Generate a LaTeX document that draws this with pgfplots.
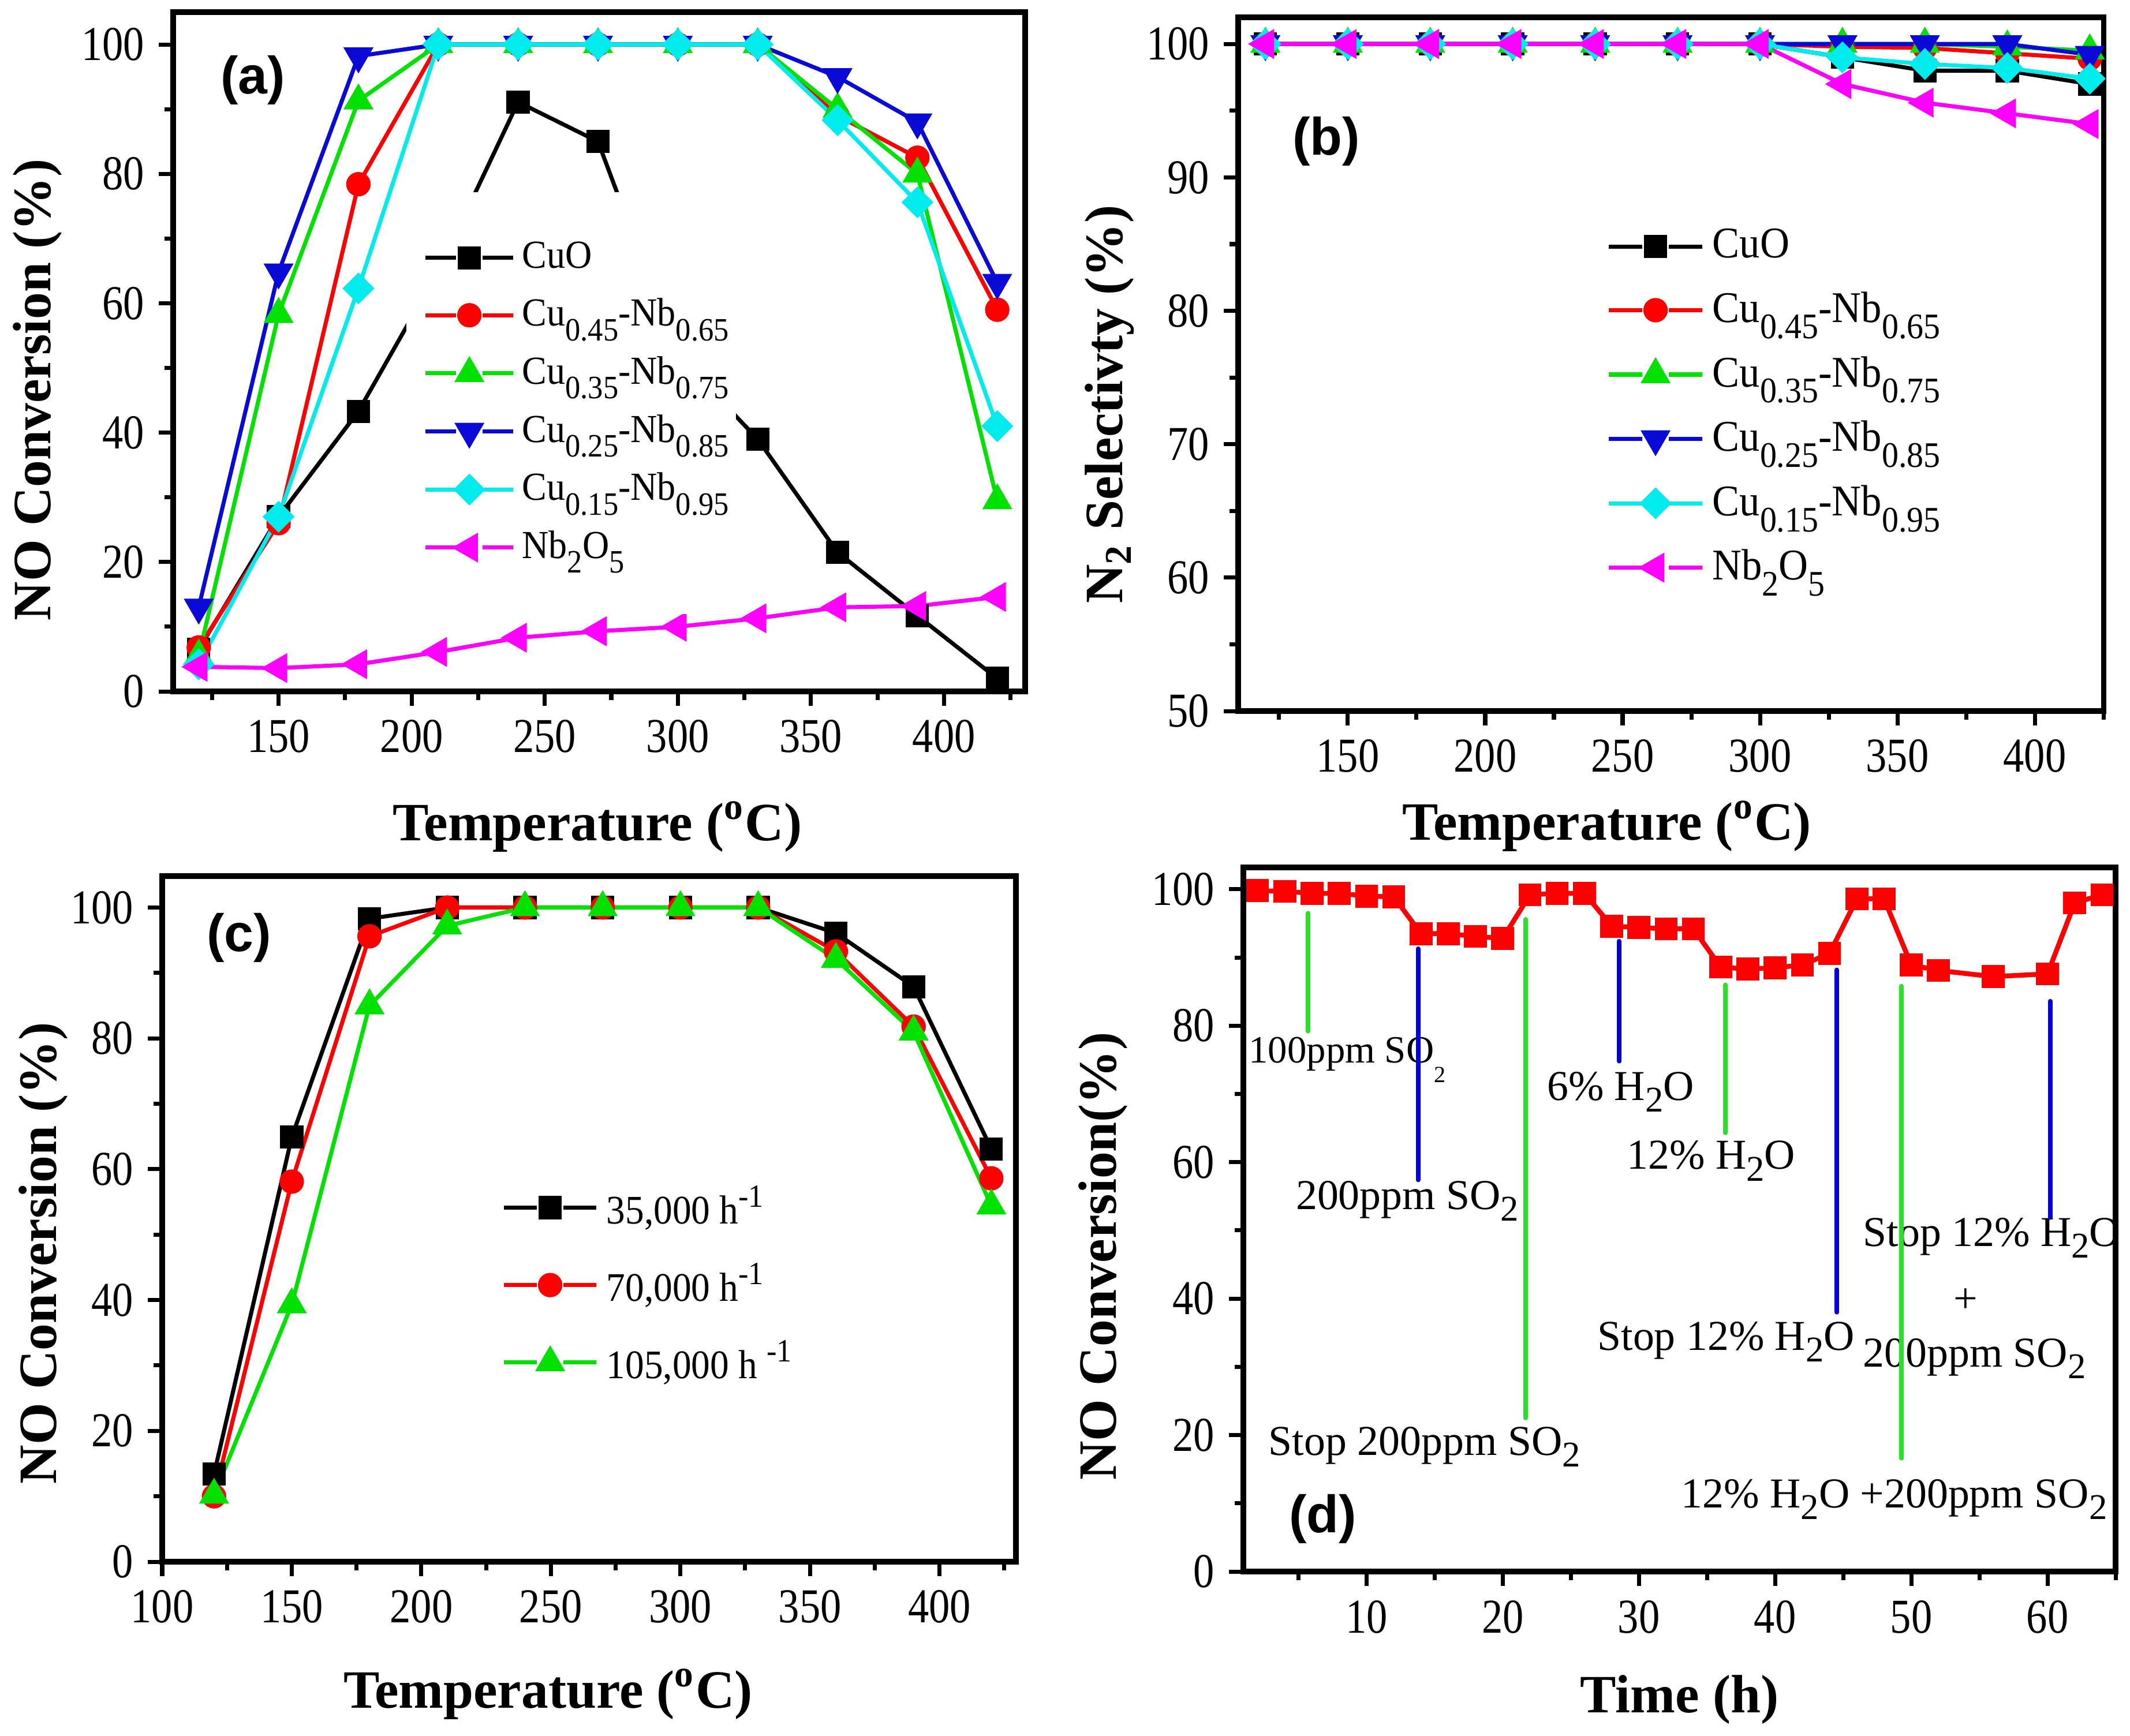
\documentclass[border=0pt]{standalone}
\usepackage{fontspec}
\setmainfont{Liberation Serif}
\newfontfamily\tickfont{Liberation Serif}[FakeStretch=0.86]
\newfontfamily\legfont{Liberation Serif}[FakeStretch=0.93]
\newfontfamily\panelfont{Liberation Sans}
\usepackage{graphicx}
\usepackage{pgfplots}
\pgfplotsset{compat=1.18}

\definecolor{cred}{RGB}{255,0,0}
\definecolor{cgreen}{RGB}{0,225,0}
\definecolor{cblue}{RGB}{10,10,215}
\definecolor{ccyan}{RGB}{0,235,235}
\definecolor{cmag}{RGB}{255,0,255}
\definecolor{agreen}{RGB}{40,225,40}
\definecolor{ablue}{RGB}{0,0,225}

\newcommand{\lsub}[1]{\raisebox{-0.8ex}{\scalebox{0.82}{#1}}}
\newcommand{\lsup}[1]{\raisebox{0.9ex}{\scalebox{0.8}{#1}}}
\newcommand{\asub}[1]{\raisebox{-0.6ex}{\scalebox{0.85}{#1}}}

\pgfplotsset{
  panel/.style={
    scale only axis, anchor=south west, clip=false,
    axis line style={line width=1.3pt},
    tick style={black, line width=1pt},
    major tick length=1.25mm, minor tick length=0.75mm,
    tick align=outside, xtick pos=left, ytick pos=left,
    tick label style={font=\tickfont\fontsize{12}{14}\selectfont},
    label style={font=\bfseries\fontsize{13.3}{15}\selectfont},
    /pgf/number format/assume math mode=true,
    every axis plot/.append style={line width=1pt},
    legend cell align=left,
  },
  gaplegend/.style 2 args={legend image code/.code={%
    \path (-#2,0mm);
    \draw (0mm,0mm) -- (#1-1.15mm,0mm) (#1+1.15mm,0mm) -- (2*#1,0mm);
    \draw plot coordinates {(#1,0mm)};}},
  sA/.style={black, mark=square*, mark size=0.83mm},
  sB/.style={cred, mark=*, mark size=0.88mm},
  sC/.style={cgreen, mark=triangle*, mark size=1.15mm},
  sD/.style={cblue, mark=triangle*, mark size=1.15mm, mark options={rotate=180}},
  sE/.style={ccyan, mark=square*, mark size=0.8mm, mark options={rotate=45}},
  sF/.style={cmag, mark=triangle*, mark size=1.15mm, mark options={rotate=90}},
}

\begin{document}
\begin{tikzpicture}
\path[use as bounding box] (0,0) rectangle (184.5mm,-150.35mm);

% ---------------- (a) ----------------
\begin{axis}[panel, at={(15mm,-59.9mm)}, width=73.8mm, height=58.85mm,
  xmin=110.4, xmax=430.5, ymin=0, ymax=105,
  xtick={150,200,...,400}, minor xtick={125,175,...,425},
  ytick={0,20,...,100}, minor ytick={10,30,...,90},
  xlabel={Temperature (\textsuperscript{o}C)},
  ylabel={NO Conversion (\%)},
  xlabel style={at={(axis description cs:0.498,-0.199)}, anchor=center},
  ylabel style={at={(axis description cs:-0.159,0.444)}, anchor=center},
  legend style={at={(axis description cs:0.2725,0.736)}, anchor=north west,
    draw=none, fill=white, inner xsep=0mm, inner ysep=3.5mm, row sep=0.57mm,
    font=\legfont\fontsize{9.8}{11}\selectfont, nodes={inner ysep=0.22em, inner xsep=0.6mm}},
  gaplegend={3.8mm}{1.5mm}]
\addplot[sA] coordinates {(120,6.5)(150,27)(180,43.3)(210,65)(240,91.1)(270,85)(300,52)(330,39)(360,21.5)(390,11.7)(420,2)};
\addlegendentry{CuO}
\addplot[sB] coordinates {(120,6.8)(150,26)(180,78.4)(210,100)(240,100)(270,100)(300,100)(330,100)(360,89)(390,82.5)(420,59)};
\addlegendentry{Cu\lsub{0.45}-Nb\lsub{0.65}}
\addplot[sC] coordinates {(120,5.5)(150,58.3)(180,91.3)(210,100)(240,100)(270,100)(300,100)(330,100)(360,90)(390,80)(420,29.5)};
\addlegendentry{Cu\lsub{0.35}-Nb\lsub{0.75}}
\addplot[sD] coordinates {(120,13)(150,64.8)(180,98.2)(210,100)(240,100)(270,100)(300,100)(330,100)(360,95)(390,88)(420,63.2)};
\addlegendentry{Cu\lsub{0.25}-Nb\lsub{0.85}}
\addplot[sE] coordinates {(120,4.2)(150,27)(180,62.3)(210,100)(240,100)(270,100)(300,100)(330,100)(360,88.3)(390,75.6)(420,41)};
\addlegendentry{Cu\lsub{0.15}-Nb\lsub{0.95}}
\addplot[sF] coordinates {(120,3.8)(150,3.6)(180,4.2)(210,6.1)(240,8.3)(270,9.3)(300,10)(330,11.3)(360,13)(390,13.2)(420,14.6)};
\addlegendentry{Nb\lsub{2}O\lsub{5}}
\node[font=\panelfont\bfseries\fontsize{13}{15}\selectfont] at (axis cs:140.3,94.5) {(a)};
\end{axis}

% ---------------- (b) ----------------
\begin{axis}[panel, at={(107.25mm,-61.6mm)}, width=74.95mm, height=60.1mm,
  xmin=110.1, xmax=425, ymin=50, ymax=102,
  xtick={150,200,...,400}, minor xtick={125,175,...,425},
  ytick={50,60,...,100}, minor ytick={55,65,...,95},
  xlabel={Temperature (\textsuperscript{o}C)},
  ylabel={N\textsubscript{2} Selectivty (\%)},
  xlabel style={at={(axis description cs:0.426,-0.166)}, anchor=center},
  ylabel style={at={(axis description cs:-0.149,0.442)}, anchor=center},
  legend style={at={(axis description cs:0.425,0.709)}, anchor=north west,
    draw=none, fill=none, inner sep=0pt, row sep=0.87mm,
    font=\legfont\fontsize{10.8}{12}\selectfont, nodes={inner ysep=0.22em}},
  gaplegend={4.05mm}{0mm}]
\addplot[sA] coordinates {(120,100)(150,100)(180,100)(210,100)(240,100)(270,100)(300,100)(330,99)(360,98)(390,98)(420,97)};
\addlegendentry{CuO}
\addplot[sB] coordinates {(120,100)(150,100)(180,100)(210,100)(240,100)(270,100)(300,100)(330,99.8)(360,99.7)(390,99.3)(420,98.9)};
\addlegendentry{Cu\lsub{0.45}-Nb\lsub{0.65}}
\addplot[sC] coordinates {(120,100)(150,100)(180,100)(210,100)(240,100)(270,100)(300,100)(330,100)(360,100)(390,99.8)(420,99.5)};
\addlegendentry{Cu\lsub{0.35}-Nb\lsub{0.75}}
\addplot[sD] coordinates {(120,100)(150,100)(180,100)(210,100)(240,100)(270,100)(300,100)(330,100)(360,100)(390,100)(420,99.2)};
\addlegendentry{Cu\lsub{0.25}-Nb\lsub{0.85}}
\addplot[sE] coordinates {(120,100)(150,100)(180,100)(210,100)(240,100)(270,100)(300,100)(330,99)(360,98.5)(390,98.2)(420,97.4)};
\addlegendentry{Cu\lsub{0.15}-Nb\lsub{0.95}}
\addplot[sF] coordinates {(120,100)(150,100)(180,100)(210,100)(240,100)(270,100)(300,100)(330,97)(360,95.6)(390,94.8)(420,94)};
\addlegendentry{Nb\lsub{2}O\lsub{5}}
\node[font=\panelfont\bfseries\fontsize{13}{15}\selectfont] at (axis cs:142.2,92.7) {(b)};
\end{axis}

% ---------------- (c) ----------------
\begin{axis}[panel, at={(14.05mm,-135.3mm)}, width=73.95mm, height=59.4mm,
  xmin=100, xmax=429.5, ymin=0, ymax=104.8,
  xtick={100,150,...,400}, minor xtick={125,175,...,425},
  ytick={0,20,...,100}, minor ytick={10,30,...,90},
  xlabel={Temperature (\textsuperscript{o}C)},
  ylabel={NO Conversion (\%)},
  xlabel style={at={(axis description cs:0.452,-0.193)}, anchor=center},
  ylabel style={at={(axis description cs:-0.139,0.45)}, anchor=center},
  legend style={at={(axis description cs:0.397,0.563)}, anchor=north west,
    draw=none, fill=none, inner sep=0pt, row sep=1.33mm,
    font=\legfont\fontsize{10}{12}\selectfont, nodes={inner ysep=0.22em}},
  gaplegend={4.0mm}{0mm}]
\addplot[sA] coordinates {(120,13.4)(150,64.9)(180,98.3)(210,100)(240,100)(270,100)(300,100)(330,100)(360,96.1)(390,87.9)(420,63.1)};
\addlegendentry{35,000 h\lsup{-1}}
\addplot[sB] coordinates {(120,10)(150,58.1)(180,95.6)(210,100)(240,100)(270,100)(300,100)(330,100)(360,93.3)(390,81.8)(420,58.6)};
\addlegendentry{70,000 h\lsup{-1}}
\addplot[sC] coordinates {(120,10.2)(150,39.3)(180,85)(210,97.2)(240,100)(270,100)(300,100)(330,100)(360,92.1)(390,81)(420,54.4)};
\addlegendentry{105,000 h \lsup{-1}}
\node[font=\panelfont\bfseries\fontsize{13}{15}\selectfont] at (axis cs:129.6,95.4) {(c)};
\end{axis}

% ---------------- (d) ----------------
\begin{axis}[panel, at={(107.7mm,-136.15mm)}, width=75.55mm, height=61.0mm,
  xmin=0.96, xmax=65, ymin=0, ymax=103.2,
  xtick={10,20,...,60}, minor xtick={5,15,...,65},
  ytick={0,20,...,100}, minor ytick={10,30,...,90},
  xlabel={Time (h)},
  ylabel={NO Conversion(\%)},
  xlabel style={at={(axis description cs:0.5,-0.182)}, anchor=center},
  ylabel style={at={(axis description cs:-0.161,0.448)}, anchor=center}]
\begin{scope}[every node/.style={font=\fontsize{10.5}{12}\selectfont, inner sep=0pt}]
\node[anchor=west, font=\fontsize{9.5}{11}\selectfont] at (axis cs:1.3,75) {100ppm SO\raisebox{-1.1ex}{\scalebox{0.6}{2}}};
\node[anchor=west] at (axis cs:4.76,54.3) {200ppm SO\asub{2}};
\node[anchor=west] at (axis cs:2.76,18.3) {Stop 200ppm SO\asub{2}};
\node[anchor=west] at (axis cs:23.2,70.3) {6\% H\asub{2}O};
\node[anchor=west] at (axis cs:29.06,60.2) {12\% H\asub{2}O};
\node[anchor=west] at (axis cs:26.9,33.7) {Stop 12\% H\asub{2}O};
\node[anchor=west] at (axis cs:46.4,48.9) {Stop 12\% H\asub{2}O};
\node at (axis cs:54.0,39.7) {+};
\node[anchor=west] at (axis cs:46.4,31.2) {200ppm SO\asub{2}};
\node[anchor=west] at (axis cs:33.05,10.6) {12\% H\asub{2}O +200ppm SO\asub{2}};
\end{scope}
\addplot[agreen, line width=1.1pt, line cap=round, mark=none] coordinates {(5.71,96.5)(5.71,79.2)};
\addplot[ablue, line width=1.1pt, line cap=round, mark=none] coordinates {(13.79,91.3)(13.79,57.4)};
\addplot[agreen, line width=1.1pt, line cap=round, mark=none] coordinates {(21.68,95.6)(21.68,22.5)};
\addplot[ablue, line width=1.1pt, line cap=round, mark=none] coordinates {(28.56,92.4)(28.56,74.8)};
\addplot[agreen, line width=1.1pt, line cap=round, mark=none] coordinates {(36.35,86.0)(36.35,64.3)};
\addplot[ablue, line width=1.1pt, line cap=round, mark=none] coordinates {(44.53,88.2)(44.53,38.0)};
\addplot[agreen, line width=1.1pt, line cap=round, mark=none] coordinates {(49.27,85.8)(49.27,16.6)};
\addplot[ablue, line width=1.1pt, line cap=round, mark=none] coordinates {(60.20,83.6)(60.20,51.9)};
\addplot[cred, line width=1.2pt, mark=square*, mark size=0.78mm] coordinates {
(2,99.8)(4,99.7)(6,99.4)(8,99.4)(10,99.0)(12,98.9)(14,93.5)(16,93.5)(18,93.1)(20,92.8)
(22,99.2)(24,99.4)(26,99.4)(28,94.6)(30,94.4)(32,94.2)(34,94.2)(36,88.6)(38,88.3)(40,88.5)
(42,88.9)(44,90.6)(46,98.6)(48,98.6)(50,88.9)(52,88.1)(56,87.2)(60,87.6)(62,98.0)(64,99.2)};
\node[font=\panelfont\bfseries\fontsize{13}{15}\selectfont] at (axis cs:6.8,7.7) {(d)};
\end{axis}
\end{tikzpicture}
\end{document}
